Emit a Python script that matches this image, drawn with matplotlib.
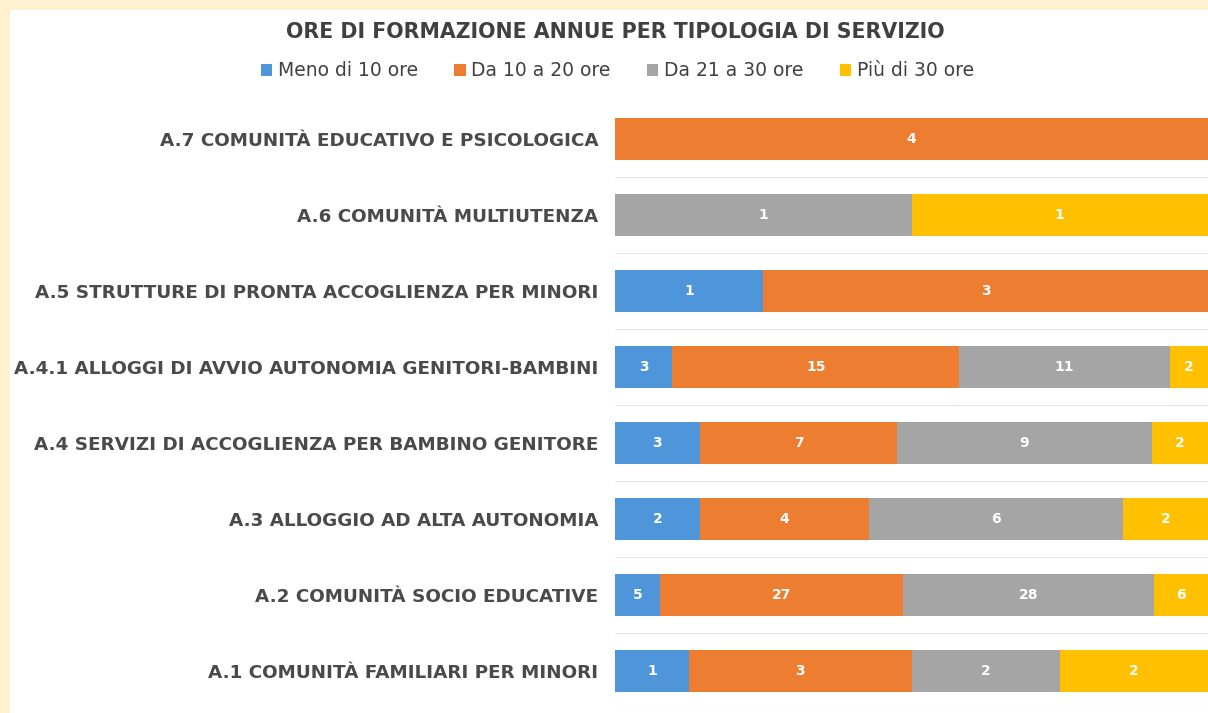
import matplotlib.pyplot as plt
import numpy as np
from matplotlib.patches import Rectangle

plt.rcParams['font.family'] = ['DejaVu Sans']

# dati (dal basso verso l'alto)
categorie = [
    "A.1 COMUNITÀ FAMILIARI PER MINORI",
    "A.2 COMUNITÀ SOCIO EDUCATIVE",
    "A.3 ALLOGGIO AD ALTA AUTONOMIA",
    "A.4 SERVIZI DI ACCOGLIENZA PER BAMBINO GENITORE",
    "A.4.1 ALLOGGI DI AVVIO AUTONOMIA GENITORI-BAMBINI",
    "A.5 STRUTTURE DI PRONTA ACCOGLIENZA PER MINORI",
    "A.6 COMUNITÀ MULTIUTENZA",
    "A.7 COMUNITÀ EDUCATIVO E PSICOLOGICA",
]
serie = ["Meno di 10 ore", "Da 10 a 20 ore", "Da 21 a 30 ore", "Più di 30 ore"]
meno_10 = [1, 5, 2, 3, 3, 1, 0, 0]
da_10_20 = [3, 27, 4, 7, 15, 3, 0, 4]
da_21_30 = [2, 28, 6, 9, 11, 0, 1, 0]
piu_30 = [2, 6, 2, 2, 2, 0, 1, 0]
colori = ["#4E95D9", "#ED7D31", "#A5A5A5", "#FFC000"]

valori = np.array([meno_10, da_10_20, da_21_30, piu_30], dtype=float)
totali = valori.sum(axis=0)
quote = valori / totali

fig = plt.figure(figsize=(12.08, 7.13), dpi=100)
fig.patch.set_facecolor("#FFF1CF")
fig.patches.append(Rectangle((10 / 1208, 0), 1, 1 - 10 / 713, transform=fig.transFigure,
                             facecolor="white", edgecolor="none", zorder=-5))

ax = fig.add_axes([615 / 1208, 4 / 713, 1 - 615 / 1208, 608 / 713])
ax.set_facecolor("none")

y = np.arange(len(categorie))
left = np.zeros(len(categorie))
for i in range(len(serie)):
    bars = ax.barh(y, quote[i], left=left, height=0.55, color=colori[i], label=serie[i], zorder=2)
    for j, b in enumerate(bars):
        if valori[i, j] > 0:
            ax.text(left[j] + quote[i, j] / 2, y[j], str(int(valori[i, j])), ha="center", va="center",
                    color="white", fontsize=10, fontweight="bold", zorder=3)
    left += quote[i]

for k in range(len(categorie)):
    ax.axhline(k - 0.5, color="#E6E6E6", lw=0.8, zorder=1)

ax.set_xlim(0, 1)
ax.set_ylim(-0.5, len(categorie) - 0.5)
ax.set_yticks(y)
ax.set_yticklabels(categorie, fontsize=13.2, color="#4A4A4A", fontweight="bold")
ax.set_xticks([])
ax.tick_params(axis="y", length=0, pad=12)
for s in ax.spines.values():
    s.set_visible(False)

fig.text(0.509, 1 - 32 / 713, "ORE DI FORMAZIONE ANNUE PER TIPOLOGIA DI SERVIZIO", ha="center", va="center",
         fontsize=14.8, fontweight="bold", color="#404040")
fig.legend(loc="center", bbox_to_anchor=(0.511, 1 - 71 / 713), ncol=4, frameon=False, fontsize=13.5,
           handlelength=0.6, handleheight=0.6, handletextpad=0.3, columnspacing=1.95, labelcolor="#404040")

plt.savefig("out.png", dpi=100)
plt.close()
